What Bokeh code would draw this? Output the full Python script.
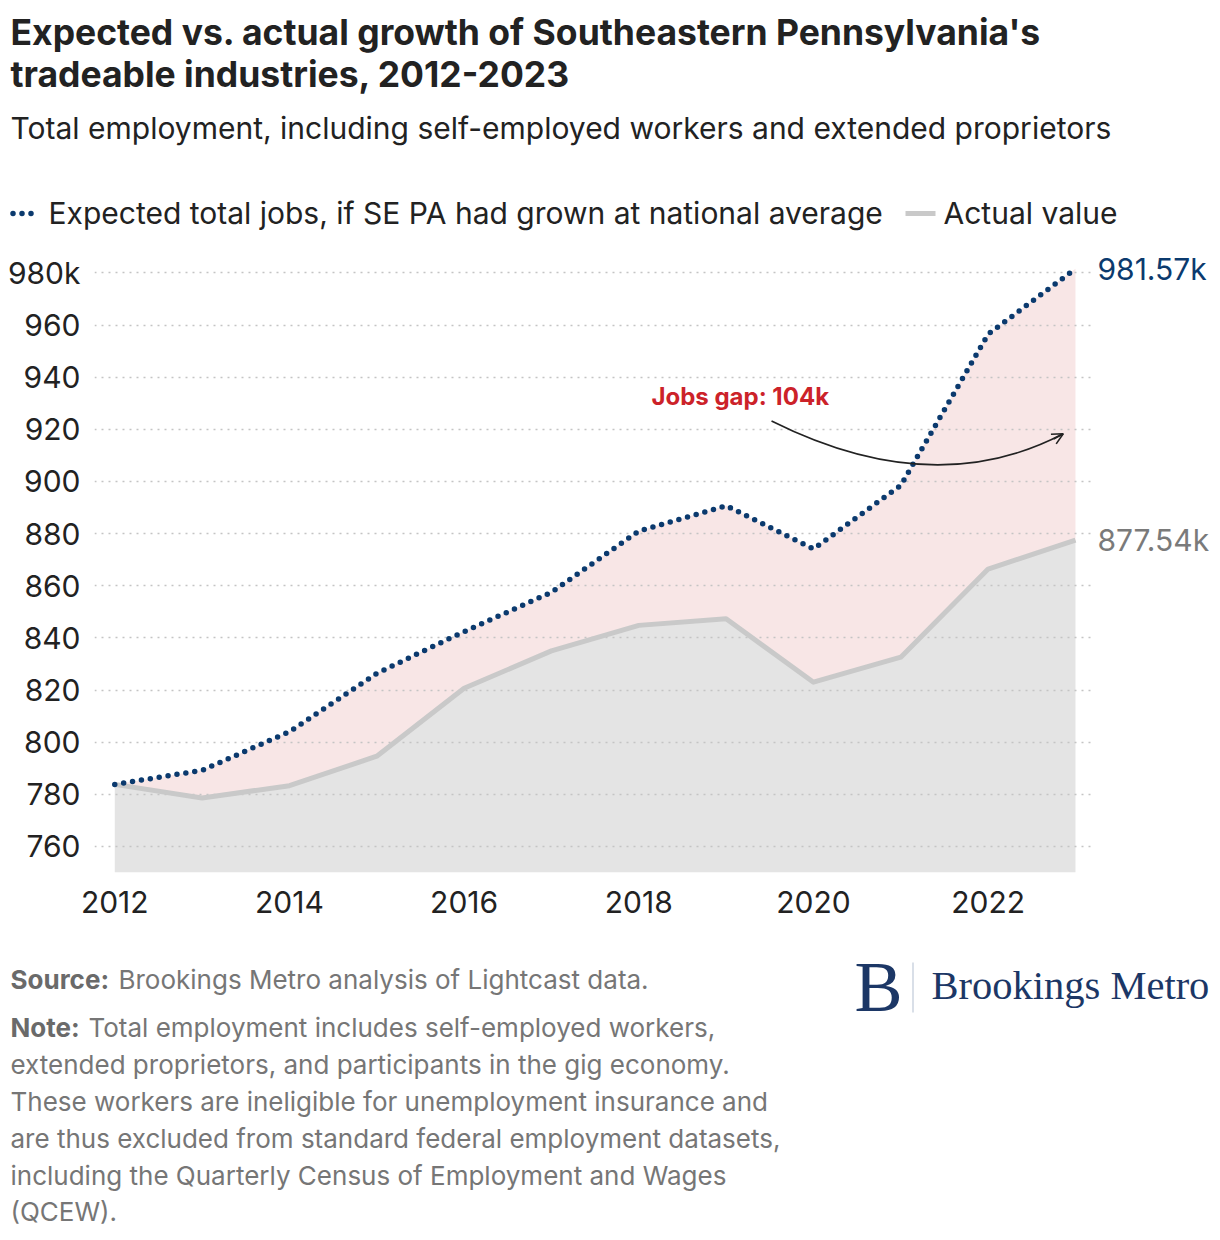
from bokeh.plotting import figure
from bokeh.layouts import column, row
from bokeh.models import (FixedTicker, Range1d, Arrow, OpenHead, ColumnDataSource)
from bokeh.embed import file_html
from bokeh.resources import INLINE
from bokeh.core.properties import value

# ---------------- data ----------------
years = [2012, 2013, 2014, 2015, 2016, 2017, 2018, 2019, 2020, 2021, 2022, 2023]
expected = [783.8, 789.2, 804.0, 826.4, 842.4, 857.5, 881.0, 890.7, 874.1, 898.5, 956.5, 981.57]
actual = [783.8, 778.6, 783.3, 794.6, 820.7, 835.0, 844.8, 847.3, 823.0, 832.6, 866.4, 877.54]

y_ticks = [760, 780, 800, 820, 840, 860, 880, 900, 920, 940, 960, 980]
y_tick_overrides = {980: "980k"}
x_ticks = [2012, 2014, 2016, 2018, 2020, 2022]

title_lines = ["Expected vs. actual growth of Southeastern Pennsylvania's",
               "tradeable industries, 2012-2023"]
subtitle = "Total employment, including self-employed workers and extended proprietors"
legend_labels = ["Expected total jobs, if SE PA had grown at national average", "Actual value"]
end_labels = ["981.57k", "877.54k"]
gap_label = "Jobs gap: 104k"
source_bold = "Source:"
source_text = "Brookings Metro analysis of Lightcast data."
note_bold = "Note:"
note_lines = ["Total employment includes self-employed workers,",
              "extended proprietors, and participants in the gig economy.",
              "These workers are ineligible for unemployment insurance and",
              "are thus excluded from standard federal employment datasets,",
              "including the Quarterly Census of Employment and Wages",
              "(QCEW)."]
logo_mark = "B"
logo_text = "Brookings Metro"

# annotation geometry (data coords of main chart)
gap_pos = (2018.145, 932.0)
curve = dict(x0=2019.52, y0=923.2, cx=2021.37, cy=892.2, x1=2022.86, y1=918.3)
arrow_from = (2022.75, 916.3)

FONT = "Inter"
SERIF = "Liberation Serif"
NAVY = "#0b3a6e"
TXT = "#222222"
GREY_TXT = "#767676"
ACT_COL = "#c9c9c9"
W = 1212
MAIN_W = 1092
CH_H = 680
CH_BOT = 58
Y0, Y1 = 750, 988.6


def blank(width, height, ytop, ybot):
    f = figure(width=width, height=height, output_backend="svg", toolbar_location=None,
               x_range=Range1d(0, width), y_range=Range1d(ybot, ytop),
               x_axis_type=None, y_axis_type=None, min_border=0,
               background_fill_color="white", border_fill_color="white")
    f.outline_line_color = None
    f.xgrid.visible = False
    f.ygrid.visible = False
    return f


def txt(f, x, y, s, size, color, style="normal", font=FONT, align="left"):
    f.text(x=[x], y=[y], text=[s], text_font=value(font), text_font_size=size,
           text_color=color, text_font_style=style, text_baseline="middle",
           text_align=align)


# ---------------- header ----------------
head = blank(W, 250, 0, 250)
txt(head, 10, 32, title_lines[0], "35.5px", TXT, "bold")
txt(head, 10, 74, title_lines[1], "35.5px", TXT, "bold")
txt(head, 10, 127, subtitle, "30px", TXT)
head.line(x=[12.5, 33], y=[213, 213], line_color=NAVY, line_width=5.5,
          line_dash="0 9", line_cap="round")
txt(head, 48, 212, legend_labels[0], "30px", TXT)
head.line(x=[905, 935], y=[213, 213], line_color=ACT_COL, line_width=5)
txt(head, 943, 212, legend_labels[1], "30px", TXT)

# ---------------- main chart ----------------
y_range = Range1d(Y0, Y1)
p = figure(width=MAIN_W, height=CH_H, output_backend="svg", toolbar_location=None,
           x_range=Range1d(2011.768, 2023.195), y_range=y_range,
           min_border_left=94, min_border_right=0, min_border_top=0,
           min_border_bottom=CH_BOT, background_fill_color="white",
           border_fill_color="white")
p.outline_line_color = None
p.xgrid.grid_line_color = None
p.ygrid.ticker = FixedTicker(ticks=y_ticks)
p.ygrid.grid_line_color = "#c4c4c4"
p.ygrid.grid_line_width = 1.5
p.ygrid.grid_line_dash = "2 5"

for ax in (p.xaxis[0], p.yaxis[0]):
    ax.axis_line_color = None
    ax.major_tick_line_color = None
    ax.minor_tick_line_color = None
    ax.major_label_text_font = FONT
    ax.major_label_text_font_size = "30px"
    ax.major_label_text_color = TXT
p.xaxis.ticker = FixedTicker(ticks=x_ticks)
p.xaxis.major_label_standoff = 12
p.yaxis.ticker = FixedTicker(ticks=y_ticks)
p.yaxis.major_label_overrides = y_tick_overrides
p.yaxis.major_label_standoff = 8

src = ColumnDataSource(dict(x=years, exp=expected, act=actual))
p.varea(x="x", y1=Y0, y2="act", source=src, fill_color="#e4e4e4", level="image")
p.varea(x="x", y1="act", y2="exp", source=src, fill_color="#f8e6e6", level="image")
p.line("x", "act", source=src, line_color=ACT_COL, line_width=5, line_join="round")
p.line("x", "exp", source=src, line_color=NAVY, line_width=5.5,
       line_dash="0 9", line_cap="round")

p.quadratic(x0=curve["x0"], y0=curve["y0"], x1=curve["x1"], y1=curve["y1"],
            cx=curve["cx"], cy=curve["cy"], line_color="#222222", line_width=1.6)
p.add_layout(Arrow(end=OpenHead(size=11, line_color="#222222", line_width=1.6),
                   x_start=arrow_from[0], y_start=arrow_from[1],
                   x_end=curve["x1"], y_end=curve["y1"],
                   line_color="#222222", line_width=1.6))
txt(p, gap_pos[0], gap_pos[1] + 0.6, gap_label, "24px", "#cc2229", "bold")

# ---------------- end labels (shares y scale) ----------------
side = figure(width=W - MAIN_W, height=CH_H, output_backend="svg", toolbar_location=None,
              x_range=Range1d(0, W - MAIN_W), y_range=y_range,
              x_axis_type=None, y_axis_type=None, min_border_left=0,
              min_border_right=0, min_border_top=0, min_border_bottom=CH_BOT,
              background_fill_color="white", border_fill_color="white")
side.outline_line_color = None
side.xgrid.visible = False
side.ygrid.visible = False
txt(side, 5, expected[-1], end_labels[0], "30px", NAVY)
txt(side, 5, actual[-1], end_labels[1], "30px", "#7a7a7a")

# ---------------- footer ----------------
foot = blank(W, 302, 930, 1232)
txt(foot, 10, 979, source_bold, "26px", "#6a6a6a", "bold")
txt(foot, 118, 979, source_text, "26px", GREY_TXT)
note_y = [1026.5, 1063.5, 1100.5, 1137.5, 1174.5, 1211]
txt(foot, 10, note_y[0], note_bold, "26px", "#6a6a6a", "bold")
txt(foot, 88, note_y[0], note_lines[0], "26px", GREY_TXT)
for yy, t in zip(note_y[1:], note_lines[1:]):
    txt(foot, 10, yy, t, "26px", GREY_TXT)

txt(foot, 854, 986, logo_mark, "72px", "#1c3766", font=SERIF)
foot.line(x=[912.5, 912.5], y=[962, 1012], line_color="#cdd4e0", line_width=1.5)
txt(foot, 931, 985, logo_text, "40.5px", "#1c3766", font=SERIF)

layout = column(head, row(p, side), foot)
open("out.html", "w").write(file_html(layout, INLINE))
